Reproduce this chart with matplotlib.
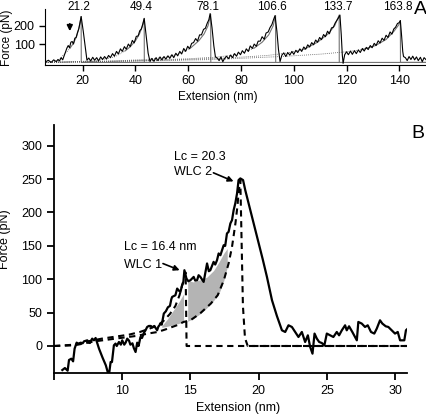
import numpy as np
import matplotlib
matplotlib.use("Agg")
import matplotlib.pyplot as plt

plt.rcParams['font.family'] = ['Liberation Sans', 'DejaVu Sans']
plt.rcParams['font.size'] = 9

# ---- panel A: force-extension trace (pN vs nm)
trace_a_x = [6.0, 7.0, 8.0, 9.0, 10.0, 10.6, 11.2, 11.8, 12.4, 13.0, 13.5, 14.0, 14.5, 15.0, 15.5, 16.0, 16.5, 17.0,
             17.5, 18.0, 18.5, 19.0, 19.4, 20.2, 21.0, 21.6,
             22.3, 23.0, 23.8, 24.5, 25.3, 26.0, 26.8, 27.5, 28.3, 29.0, 29.8, 30.5, 31.3, 32.0, 32.8, 33.5, 34.3,
             35.0, 35.8, 36.5, 37.3, 38.0, 38.8, 39.5, 40.3, 41.0, 41.6, 42.2, 42.8, 43.3, 44.0, 44.8, 45.5,
             46.2, 47.0, 47.8, 48.5, 49.3, 50.0, 50.8, 51.5, 52.3, 53.0, 53.8, 54.5, 55.3, 56.0, 56.8, 57.5, 58.3,
             59.0, 59.8, 60.5, 61.3, 62.0, 62.8, 63.5, 64.3, 65.0, 65.8, 66.5, 67.2, 67.8, 68.3, 69.0, 69.7, 70.3,
             71.0, 71.7, 72.4, 73.1, 73.8, 74.5, 75.3, 76.0, 76.8, 77.5, 78.3, 79.0, 79.8, 80.5, 81.3, 82.0, 82.8,
             83.5, 84.3, 85.0, 85.8, 86.5, 87.3, 88.0, 88.8, 89.5, 90.3, 91.0, 91.7, 92.3, 92.9, 93.6, 94.2, 94.8,
             95.5, 96.2, 97.0, 97.7, 98.5, 99.3, 100.0, 100.8, 101.5, 102.3, 103.0, 103.8, 104.5, 105.3, 106.0,
             106.8, 107.5, 108.3, 109.0, 109.8, 110.5, 111.3, 112.0, 112.8, 113.5, 114.3, 115.0, 115.7, 116.3,
             116.9, 117.5, 118.0, 118.4, 118.7, 119.3,
             120.0, 120.7, 121.5, 122.2, 123.0, 123.7, 124.5, 125.2, 126.0, 126.7, 127.5, 128.2, 129.0, 129.7,
             130.5, 131.2, 132.0, 132.7, 133.5, 134.2, 135.0, 135.7, 136.5, 137.2, 137.9, 138.6, 139.3, 139.9,
             140.4, 140.9, 141.3, 141.6,
             142.3, 143.0, 143.7, 144.4, 145.1, 145.8, 146.5, 147.2, 148.0, 148.7, 149.4, 150.2]
trace_a_y = [4, 12, 0, 14, 4, 16, 8, 26, 14, 38, 58, 78, 92, 80, 110, 114, 100, 132,
             136, 162, 182, 218, 250, 170, 80, 12,
             24, 8, 28, 12, 26, 8, 30, 16, 32, 18, 38, 26, 48, 34, 60, 46, 74,
             60, 86, 72, 100, 86, 120, 106, 142, 144, 172, 182, 210, 240, 150, 50, 5,
             22, 6, 26, 10, 30, 14, 32, 18, 36, 22, 42, 26, 50, 36, 60, 46, 76,
             60, 88, 74, 104, 108, 130, 116, 150, 150, 180, 186, 214, 232, 266, 190, 90, 30,
             24, 10, 30, 4, 22, 34, 20, 40, 26, 48, 34, 56, 42, 64, 50, 74, 60,
             90, 76, 100, 88, 116, 116, 140, 126, 160, 166, 190, 206, 232, 255, 170, 70, 5,
             40, 52, 32, 54, 40, 60, 44, 66, 54, 74, 60, 84, 72, 96, 84,
             108, 96, 122, 110, 136, 124, 152, 140, 170, 156, 188, 192, 215, 228,
             242, 258, 150, 40, -5, 42,
             58, 42, 62, 44, 64, 48, 68, 54, 76, 62, 82, 70, 92, 80,
             104, 92, 118, 106, 132, 120, 148, 136, 166, 154, 182, 192, 212, 216,
             228, 140, 60, 32,
             26, 10, 32, 16, 34, 14, 30, 10, 28, 4, 26, 14]

# WLC fits in panel A
fit1_x = [6, 8, 10, 11.5, 12.6, 14, 15.2, 16.5, 17.7, 18.6, 19.4, 19.45, 151]
fit1_y = [0, 3, 8, 20, 40, 58, 78, 105, 142, 190, 250, 0, 0]
fit2_x = [6, 15, 25, 32, 36, 38, 40, 41.5, 42.5, 43.3, 43.35]
fit2_y = [0, 3, 9, 30, 62, 85, 118, 155, 192, 238, 0]
fit3_x = [6, 20, 35, 45, 52, 57, 61, 64, 66, 67.5, 68.5, 68.55]
fit3_y = [0, 4, 10, 17, 30, 50, 80, 118, 155, 200, 262, 0]
fit4_x = [6, 25, 45, 60, 70, 76, 81, 85, 88, 90.5, 92.2, 93.1, 93.15]
fit4_y = [0, 5, 12, 20, 28, 38, 55, 78, 110, 150, 200, 255, 0]
fit5_x = [6, 30, 55, 75, 90, 98, 104, 109, 113, 115.5, 117.2, 117.25]
fit5_y = [0, 5, 14, 24, 38, 52, 72, 110, 155, 200, 258, 0]
fit6_x = [6, 40, 70, 95, 110, 120, 126, 131, 135, 138, 139.8, 140.4, 140.45, 151]
fit6_y = [0, 7, 16, 32, 45, 58, 70, 92, 125, 170, 205, 228, 0, 0]

peak_x = [19.4, 43.3, 68.3, 92.9, 117.5, 140.4]
lc_labels = ["21.2", "49.4", "78.1", "106.6", "133.7", "163.8"]

# ---- panel B: zoom of first event
trace_b_x = [5.61, 5.8, 6.0, 6.1, 6.27, 6.4, 6.51, 6.66, 6.8, 6.95, 7.1, 7.2, 7.44, 7.55, 7.63, 7.8, 7.93, 8.05,
             8.3, 8.55, 8.8, 9.02, 9.15, 9.25, 9.39, 9.51, 9.6, 9.76, 9.9, 10.0, 10.15, 10.25, 10.37, 10.5, 10.6,
             10.75, 10.85, 10.98, 11.1, 11.2, 11.34, 11.45, 11.6, 11.71, 11.83, 11.95, 12.1, 12.2, 12.35, 12.56,
             12.65, 12.8, 12.9, 13.05, 13.2, 13.35, 13.5, 13.6, 13.66, 13.9, 14.03, 14.15, 14.27, 14.39, 14.48,
             14.56, 14.71, 14.85, 15.0, 15.24, 15.35, 15.49, 15.6, 15.73, 15.97, 16.22, 16.35, 16.46, 16.7, 16.82,
             16.95, 17.07, 17.2, 17.32, 17.44, 17.55, 17.68, 17.8, 17.93, 18.05, 18.17, 18.29, 18.42, 18.53, 18.66,
             18.86, 19.02, 19.39, 19.88, 20.3, 20.61, 20.98, 21.34, 21.71, 21.95, 22.19, 22.44, 22.68, 22.92,
             23.17, 23.41, 23.61, 23.78, 23.95, 24.1, 24.27, 24.44, 24.63, 24.82, 25.0, 25.24, 25.48, 25.73, 25.9,
             26.1, 26.34, 26.46, 26.63, 26.87, 27.05, 27.2, 27.31, 27.56, 27.8, 28.0, 28.24, 28.48, 28.66, 28.9,
             29.07, 29.32, 29.51, 29.76, 30.0, 30.2, 30.37, 30.68, 30.8, 30.93]
trace_b_y = [-36, -33, -37, -21, -19, -23, -4, 5, 3, 5, 4, 7, 8.5, 5, 4.5, 11, 8.5, 12,
             -4, -17, -29, -45, -24, -24, 1, 3.6, 0, 6, 2, 8.5, 2, 5, 11, 8, 2,
             4, -3, -9, 5, 0, 13.5, 12, 20, 23.5, 28.5, 30, 30, 28, 30, 23.6,
             29, 33, 32, 48.6, 52, 58, 60, 70, 73.5, 76, 86, 83, 81, 91, 95,
             113.5, 101, 97, 98.5, 103.5, 98, 98.5, 106, 103.5, 96, 123.6, 112, 113.5, 126, 122,
             128.5, 138.6, 136, 143.5, 151, 150, 168.6, 171, 183.6, 188.5, 203.5, 213.6, 228.6, 248.5, 251,
             248.5, 233.5, 203.5, 163.5, 130, 103.5, 68.6, 45, 23.5, 21, 31, 28.5, 21, 13.5,
             21, 6, 16, -1.5, -11.5, 18.6, 11, 6, 4.5, 1, 18.6, 16, 13.5, 21, 16,
             23.5, 31, 23.5, 29.5, 21, 14, 8.5, 36, 33.6, 28.5, 31, 21, 18.6, 26, 38.5,
             33.6, 29.5, 28.5, 23.5, 18.6, 21, 8.5, 8.5, 23.5, 26]

wlc1_x = [5.0, 6.5, 7.5, 8.5, 9.5, 10.5, 11.3, 12.0, 12.6, 13.0, 13.5, 13.9, 14.2, 14.45, 14.65, 14.72, 30.9]
wlc1_y = [0, 2, 7, 11, 14, 17, 21, 26, 31, 37, 48, 60, 76, 95, 110, 0, 0]
wlc2_x = [5.0, 6.5, 8.0, 9.5, 11.0, 12.0, 12.6, 13.2, 14.0, 14.5, 15.0, 15.7, 16.5, 17.0, 17.45, 17.8, 18.05,
          18.3, 18.45, 18.55, 18.66, 18.85, 19.0, 19.2, 30.9]
wlc2_y = [0, 1, 7, 11, 15, 19, 21, 25, 31, 36, 38.5, 48.6, 63.6, 76, 98.5, 123.6, 148.5,
          183.6, 210, 233.5, 248.5, 60, 12, 0, 0]

# shaded area between curves
shade1_x = [12.9, 13.3, 13.7, 14.1, 14.5]
shade1_top = [30, 40, 52, 64, 78]
shade1_bot = [28, 29.5, 31.5, 33.5, 36]
shade2_x = [14.8, 15.2, 15.7, 16.2, 16.7, 17.1, 17.45, 17.7]
shade2_top = [98, 96, 99, 103, 113, 126, 139, 146]
shade2_bot = [37, 41, 48, 57, 68, 79, 98, 118]

fig = plt.figure(figsize=(4.27, 4.17), dpi=100)
axA = fig.add_axes([45 / 427, 1 - 65 / 417, 382 / 427, 56 / 417])
axB = fig.add_axes([54 / 427, 1 - 372.7 / 417, 353.3 / 427, 247.7 / 417])

for ax in (axA, axB):
    ax.spines['top'].set_visible(False)
    ax.spines['right'].set_visible(False)
    ax.tick_params(direction='out', length=4, width=1)

# panel A: fits drawn dotted where low, solid near the peaks
for fx, fy in [(fit1_x, fit1_y), (fit2_x, fit2_y), (fit3_x, fit3_y),
               (fit4_x, fit4_y), (fit5_x, fit5_y), (fit6_x, fit6_y)]:
    fx = np.array(fx)
    fy = np.array(fy)
    k = int(np.argmax(fy >= 60))
    axA.plot(fx[:k + 1], fy[:k + 1], color='0.35', lw=0.6, ls=(0, (1, 1.5)))
    axA.plot(fx[k:], fy[k:], color='0.45', lw=0.8)
axA.plot(trace_a_x, trace_a_y, color='black', lw=0.8)

for px, lab in zip(peak_x, lc_labels):
    axA.text(px - 1, 300, lab, ha='center', va='center', fontsize=8.5, clip_on=False)

axA.annotate('', xy=(15.1, 155), xytext=(15.1, 225),
             arrowprops=dict(arrowstyle='-|>', color='black', lw=1.3, mutation_scale=8))

axA.set_xlim(5.7, 150.5)
axA.set_ylim(-14, 291)
axA.set_xticks([20, 40, 60, 80, 100, 120, 140])
axA.set_yticks([100, 200])
axA.set_xlabel('Extension (nm)', fontsize=8.5)
axA.set_ylabel('Force (pN)', fontsize=8.5)
axA.xaxis.set_label_coords(0.453, -0.47)
axA.yaxis.set_label_coords(-0.084, 0.48)

# panel B
axB.fill_between(shade1_x, shade1_bot, shade1_top, color='#b4b4b4', lw=0)
axB.fill_between(shade2_x, shade2_bot, shade2_top, color='#b4b4b4', lw=0)
axB.plot(wlc1_x, wlc1_y, color='black', lw=1.5, ls=(0, (3, 2.2)))
axB.plot(wlc2_x, wlc2_y, color='black', lw=1.5, ls=(0, (3, 2.2)))
axB.plot(trace_b_x, trace_b_y, color='black', lw=1.6)

axB.text(13.78, 283, 'Lc = 20.3', ha='left', va='center', fontsize=9)
axB.text(13.78, 261, 'WLC 2', ha='left', va='center', fontsize=9)
axB.annotate('', xy=(18.35, 245), xytext=(16.5, 261),
             arrowprops=dict(arrowstyle='-|>', color='black', lw=1.2, mutation_scale=8))
axB.text(10.12, 148, 'Lc = 16.4 nm', ha='left', va='center', fontsize=9)
axB.text(10.12, 121, 'WLC 1', ha='left', va='center', fontsize=9)
axB.annotate('', xy=(14.4, 112), xytext=(12.8, 125),
             arrowprops=dict(arrowstyle='-|>', color='black', lw=1.2, mutation_scale=8))

axB.set_xlim(5, 30.9)
axB.set_ylim(-40, 331)
axB.set_xticks([5, 10, 15, 20, 25, 30])
axB.set_xticklabels(['', '10', '15', '20', '25', '30'])
axB.set_yticks([0, 50, 100, 150, 200, 250, 300])
for s in ('left', 'bottom'):
    axB.spines[s].set_linewidth(1.3)
axB.tick_params(width=1.3, length=5)
axB.set_xlabel('Extension (nm)')
axB.set_ylabel('Force (pN)')
axB.xaxis.set_label_coords(0.52, -0.118)
axB.yaxis.set_label_coords(-0.122, 0.54)

fig.text(420 / 427, 1 - 9 / 417, 'A', fontsize=14, ha='center', va='center')
fig.text(418 / 427, 1 - 134 / 417, 'B', fontsize=14, ha='center', va='center')

fig.savefig('out.png', dpi=100)
